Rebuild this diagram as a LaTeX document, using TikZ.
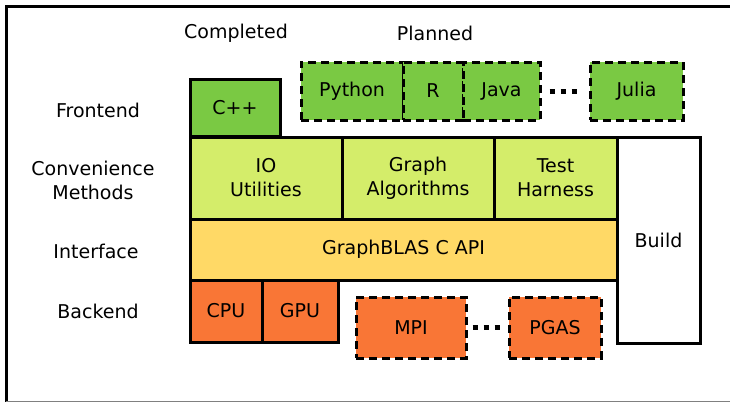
\documentclass[tikz,border=0pt]{standalone}
\usepackage{fontspec}
\setmainfont{DejaVu Sans}
\usetikzlibrary{positioning}

\definecolor{donegreen}{HTML}{7AC943}
\definecolor{convgreen}{HTML}{D4ED6A}
\definecolor{apiyellow}{HTML}{FFD966}
\definecolor{backorange}{HTML}{F97636}

\tikzset{
  block/.style={draw=black, line width=3pt, inner sep=0pt, align=center},
  planned/.style={block, dash pattern=on 8pt off 5pt},
  dots/.style={line width=5pt, dash pattern=on 5pt off 6pt},
  layer/.style={align=center}
}

\begin{document}
\begin{tikzpicture}[x=1pt, y=-1pt, font=\fontsize{19}{24}\selectfont]
         \useasboundingbox (0,0) rectangle (730,402);
         % frame
         \draw[line width=3pt] (730,6) -- (6,6) -- (6,402);
         \draw[gray] (6,401) -- (730,401);

         % headings and layer names
         \node[name=completed] at (236,33) {Completed};
         \node[name=planned] at (435,33) {Planned};
         \node[layer,name=frontend] at (98,110) {Frontend};
         \node[layer,name=convenience] at (93,180) {Convenience\\Methods};
         \node[layer,name=interface] at (96,251) {Interface};
         \node[layer,name=backend] at (98,311) {Backend};

         % frontend
         \node[block,fill=donegreen,minimum width=90pt,minimum height=57pt,name=cpp] at (235,107.5) {C++};
         \node[planned,fill=donegreen,minimum width=102pt,minimum height=58pt,name=python] at (352,91) {Python};
         \node[planned,fill=donegreen,minimum width=60pt,minimum height=58pt,name=r, right=-3pt of python] {R};
         \node[planned,fill=donegreen,minimum width=77pt,minimum height=58pt,name=java, right=-3pt of r] {Java};
         \node[planned,fill=donegreen,minimum width=93pt,minimum height=58pt,name=julia] at (636.5,91) {Julia};

         % convenience methods
         \node[block,fill=convgreen,minimum width=152pt,minimum height=82pt,name=io] at (266,178) {IO\\Utilities};
         \node[block,fill=convgreen,minimum width=152pt,minimum height=82pt,name=graph, right=-3pt of io] {Graph\\Algorithms};
         \node[block,fill=convgreen,minimum width=123pt,minimum height=82pt,name=test, right=-3pt of graph] {Test\\Harness};

         % interface
         \node[block,fill=apiyellow,minimum width=427pt,minimum height=61pt,name=api] at (403.5,249.5) {GraphBLAS C API};

         % backend
         \node[block,fill=backorange,minimum width=72pt,minimum height=62pt,name=cpu] at (226,311) {CPU};
         \node[block,fill=backorange,minimum width=76pt,minimum height=62pt,name=gpu, right=-3pt of cpu] {GPU};
         \node[planned,fill=backorange,minimum width=110pt,minimum height=61pt,name=mpi] at (411,327.5) {MPI};
         \node[planned,fill=backorange,minimum width=92pt,minimum height=61pt,name=pgas] at (555,327.5) {PGAS};

         \node[block,fill=white,minimum width=83pt,minimum height=206pt,name=build] at (658.5,240) {Build};

         \draw[dots, shorten <=8pt, shorten >=8pt] (java.east) -- (julia.west);
         \draw[dots, shorten <=5pt, shorten >=5pt] (mpi.east) -- (pgas.west);
      \end{tikzpicture}
\end{document}
